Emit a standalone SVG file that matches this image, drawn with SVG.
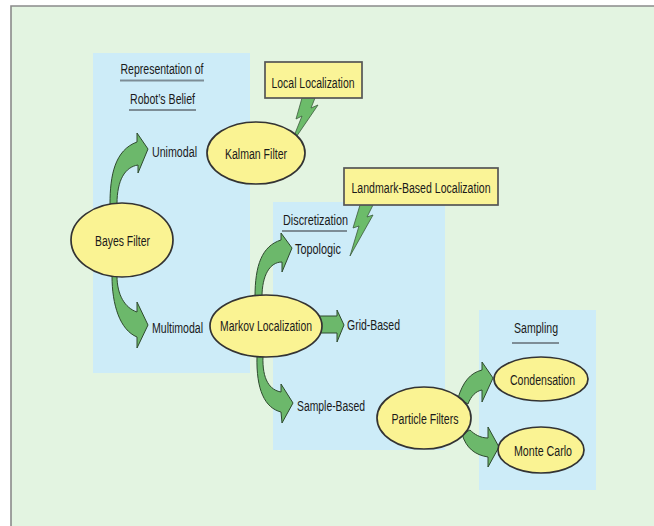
<svg xmlns="http://www.w3.org/2000/svg" width="654" height="526" viewBox="0 0 654 526">
<style>
.t{font-family:"Liberation Sans",Arial,sans-serif;font-size:15.5px;fill:#1a1a1a}
.c{text-anchor:middle}
.ell{fill:#faf393;stroke:#333;stroke-width:1.7}
.box{fill:#faf497;stroke:#555;stroke-width:1.7}
.arr{fill:#6cb86b;stroke:#2e4a2e;stroke-width:1}
.bolt{fill:#6cbc6a;stroke:#3c5a3c;stroke-width:0.8}
.ul{stroke:#7d8d96;stroke-width:2.2}
.panel{fill:#cdecf8}
</style>
<rect x="0" y="0" width="654" height="526" fill="#ffffff"/>
<rect x="11" y="6" width="643" height="520" fill="#e3f4e1"/>
<path d="M11,526 L11,6 L654,6" fill="none" stroke="#8a8a8a" stroke-width="1.6"/>
<g id="panels">
<rect class="panel" x="93" y="53" width="157" height="320"/>
<rect class="panel" x="273" y="202" width="172" height="248"/>
<rect class="panel" x="479" y="310" width="117" height="180"/>
</g>
<g id="headings">
<text class="t c" transform="translate(162,74) scale(0.68,1)" textLength="122.1" lengthAdjust="spacingAndGlyphs">Representation of</text>
<line class="ul" x1="120" y1="80.5" x2="204" y2="80.5"/>
<text class="t c" transform="translate(162.5,104) scale(0.68,1)" textLength="95.6" lengthAdjust="spacingAndGlyphs">Robot’s Belief</text>
<line class="ul" x1="129" y1="110" x2="196" y2="110"/>
<text class="t c" transform="translate(315.5,225) scale(0.68,1)" textLength="95.6" lengthAdjust="spacingAndGlyphs">Discretization</text>
<line class="ul" x1="282" y1="231" x2="347" y2="231"/>
<text class="t c" transform="translate(536,333) scale(0.68,1)" textLength="64.7" lengthAdjust="spacingAndGlyphs">Sampling</text>
<line class="ul" x1="512" y1="343" x2="559" y2="343"/>
</g>
<g id="connectors">
<path class="arr" d="M110,204 C110,175 115,150 137,142 L137,133 L148,149 L138,173 L138,165 C125,167 117,180 117,204 Z"/>
<path class="arr" d="M112,276 C112,305 120,330 137,337 L137,348 L148,325 L137,302 L137,312 C125,308 117,295 117,276 Z"/>
<path class="arr" d="M255,297 C255,265 262,246 281,240 L281,233 L292,248 L282,272 L282,262 C270,262 262,275 262,297 Z"/>
<path class="arr" d="M257,356 C256,390 265,408 281,412 L282,423 L293,403 L281,384 L281,392 C270,390 262,380 263,356 Z"/>
<path class="arr" d="M318,316 L337,316 L337,310 L344,325 L337,342 L337,333 L318,333 Z"/>
<path class="arr" d="M458,398 C463,382 470,373 482,370 L482,362 L493,378 L482,402 L482,390 C476,391 471,396 468,404 Z"/>
<path class="arr" d="M462,434 C466,448 475,455 488,457 L488,467 L499,447 L488,427 L488,438 C480,438 474,434 470,430 Z"/>
<polygon class="bolt" points="302,98 315,98 311,108 318,105 290,146 302,116 296,119"/>
<polygon class="bolt" points="360,205 373,205 367,217 373,215 350,256 359,226 353,228"/>
</g>
<g id="local">
<rect class="box" x="265" y="62" width="97" height="36"/>
<text class="t c" transform="translate(313,88) scale(0.68,1)" textLength="122.1" lengthAdjust="spacingAndGlyphs">Local Localization</text>
</g>
<g id="landmark">
<rect class="box" x="344" y="168" width="154" height="37"/>
<text class="t c" transform="translate(421,193) scale(0.68,1)" textLength="204.4" lengthAdjust="spacingAndGlyphs">Landmark-Based Localization</text>
</g>
<g id="bayes">
<ellipse class="ell" cx="122" cy="240" rx="51" ry="37"/>
<text class="t c" transform="translate(122.5,245.5) scale(0.68,1)" textLength="80.9" lengthAdjust="spacingAndGlyphs">Bayes Filter</text>
</g>
<g id="kalman">
<ellipse class="ell" cx="256" cy="153" rx="49" ry="31"/>
<text class="t c" transform="translate(256,159) scale(0.68,1)" textLength="91.2" lengthAdjust="spacingAndGlyphs">Kalman Filter</text>
</g>
<g id="markov">
<ellipse class="ell" cx="266" cy="326" rx="56" ry="31"/>
<text class="t c" transform="translate(266,331) scale(0.68,1)" textLength="135.3" lengthAdjust="spacingAndGlyphs">Markov Localization</text>
</g>
<g id="particle">
<ellipse class="ell" cx="424" cy="418" rx="47" ry="31"/>
<text class="t c" transform="translate(425,424) scale(0.68,1)" textLength="98.5" lengthAdjust="spacingAndGlyphs">Particle Filters</text>
</g>
<g id="condensation">
<ellipse class="ell" cx="541" cy="379" rx="47" ry="22"/>
<text class="t c" transform="translate(542.5,384.5) scale(0.68,1)" textLength="95.6" lengthAdjust="spacingAndGlyphs">Condensation</text>
</g>
<g id="montecarlo">
<ellipse class="ell" cx="541" cy="450" rx="43" ry="23"/>
<text class="t c" transform="translate(543,455.5) scale(0.68,1)" textLength="85.3" lengthAdjust="spacingAndGlyphs">Monte Carlo</text>
</g>
<g id="labels">
<text class="t" transform="translate(152,157) scale(0.68,1)" textLength="66.2" lengthAdjust="spacingAndGlyphs">Unimodal</text>
<text class="t" transform="translate(152,333) scale(0.68,1)" textLength="75" lengthAdjust="spacingAndGlyphs">Multimodal</text>
<text class="t" transform="translate(295,254) scale(0.68,1)" textLength="67.6" lengthAdjust="spacingAndGlyphs">Topologic</text>
<text class="t" transform="translate(347,330) scale(0.68,1)" textLength="77.9" lengthAdjust="spacingAndGlyphs">Grid-Based</text>
<text class="t" transform="translate(297,411) scale(0.68,1)" textLength="100" lengthAdjust="spacingAndGlyphs">Sample-Based</text>
</g>
</svg>
